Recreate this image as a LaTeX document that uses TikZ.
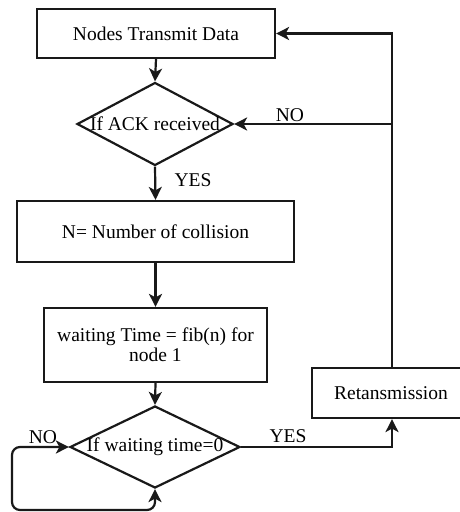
\documentclass[tikz,border=0pt]{standalone}
\usepackage{fontspec}
\setmainfont{Liberation Serif}
\usetikzlibrary{arrows.meta,shapes.geometric}
\begin{document}
\begin{tikzpicture}[x=1pt,y=-1pt,
  every node/.style={font=\fontsize{19.5}{22}\selectfont, text=black},
  procbox/.style={draw=black!90, line width=2.2pt, rectangle, inner sep=0pt, align=center},
  decision/.style={draw=black!90, line width=2.2pt, diamond, inner sep=0pt},
  tip/.tip={Stealth[length=13pt,width=13pt,inset=3.5pt]},
  flow/.style={draw=black!90, line width=2.2pt, -tip},
  lbl/.style={inner sep=0pt}]
\useasboundingbox (0,0) rectangle (460,512);

% process boxes
\node[procbox, minimum width=238pt, minimum height=49pt] (b1) at (156,33.5) {Nodes Transmit Data};
\node[procbox, minimum width=277pt, minimum height=61pt] (b2) at (155.5,231.5) {N= Number of collision};
\node[procbox, minimum width=223pt, minimum height=74pt] (b3) at (155.5,345) {waiting Time = fib(n) for\\[-2pt]node 1};
\node[procbox, minimum width=160pt, minimum height=50pt] (r) at (392,393) {};
\node[lbl] at (391,393) {Retansmission};

% decisions (text set over the shape)
\node[decision, minimum width=156pt, minimum height=83pt] (d1) at (155,124) {};
\node[lbl] at (155,124) {If ACK received};
\node[decision, minimum width=170pt, minimum height=82pt] (d2) at (155,447) {};
\node[lbl] at (155,447) {If waiting time=0};

% main flow
\draw[flow] (b1.south) -- (d1.north);
\draw[flow] (d1.south) -- (b2.north);
\draw[flow] (b2.south) -- (b3.north);
\draw[flow] (b3.south) -- (d2.north);

% retransmission path
\draw[flow] (d2.east) -- (d2.east -| r.south) -- (r.south);
\draw[flow] (r.north) -- (r.north |- b1.east) -- (b1.east);
\draw[flow] (r.north |- d1.east) -- (d1.east);

% waiting loop
\coordinate (lw) at (12,447);
\coordinate (lb) at (12,510);
\draw[flow, tip-tip, rounded corners=8pt]
  (d2.west) -- (lw) -- (lb) -- (lb -| d2.south) -- (d2.south);

% branch labels
\node[lbl] at (290,115) {NO};
\node[lbl] at (193,180) {YES};
\node[lbl] at (43,437) {NO};
\node[lbl] at (288,436) {YES};
\end{tikzpicture}
\end{document}
